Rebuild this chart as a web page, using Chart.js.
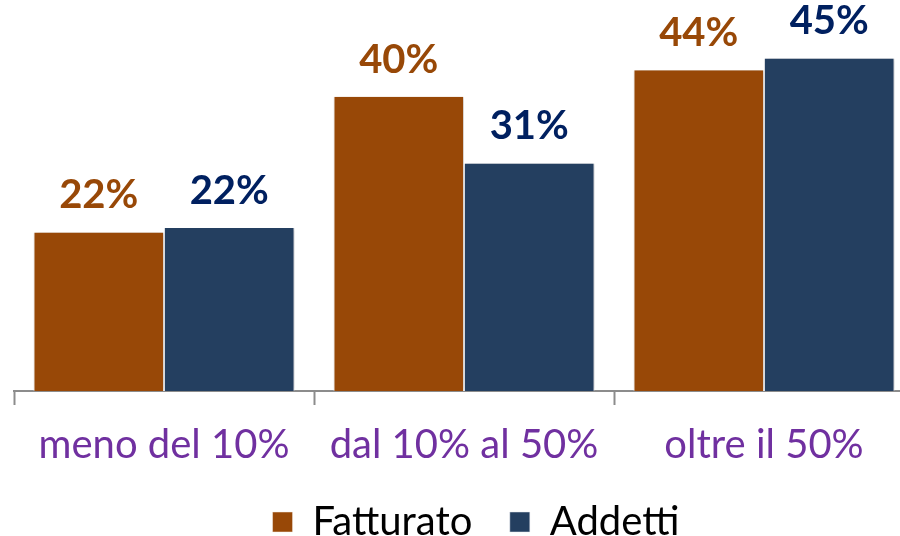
<!DOCTYPE html>
<html>
<head>
<meta charset="utf-8">
<script src="https://cdn.jsdelivr.net/npm/chart.js@4"></script>
<style>
    html, body { margin: 0; padding: 0; background: #fff; overflow: hidden; }
    #wrap { width: 900px; height: 536px; overflow: hidden; }
</style>
</head>
<body>
<div id="wrap"><canvas id="chart" width="914" height="558"></canvas></div>
<script>
// Chart data
const categories = ['meno del 10%', 'dal 10% al 50%', 'oltre il 50%'];
const fatturato = [21.6, 40.1, 43.7];
const addetti = [22.2, 31.0, 45.3];
const seriesNames = ['Fatturato', 'Addetti'];

const FONT = 'Lato, "Liberation Sans", sans-serif';
const labelColors = ['#984807', '#002060'];

// Soft shadow behind bars
const barShadow = {
    id: 'barShadow',
    beforeDatasetsDraw(chart) {
        const ctx = chart.ctx;
        ctx.save();
        ctx.shadowColor = 'rgba(0,0,0,0.22)';
        ctx.shadowBlur = 5;
        ctx.shadowOffsetX = 1;
        ctx.shadowOffsetY = 0;
    },
    afterDatasetsDraw(chart) {
        chart.ctx.restore();
    }
};

// Percent labels above each bar
const valueLabels = {
    id: 'valueLabels',
    afterDatasetsDraw(chart) {
        const ctx = chart.ctx;
        ctx.save();
        ctx.font = 'bold 40px ' + FONT;
        ctx.textAlign = 'center';
        ctx.textBaseline = 'middle';
        chart.data.datasets.forEach((ds, i) => {
            chart.getDatasetMeta(i).data.forEach((bar, j) => {
                ctx.fillStyle = labelColors[i];
                ctx.fillText(Math.round(ds.data[j]) + '%', bar.x, bar.y - 37);
            });
        });
        ctx.restore();
    }
};

// Legend sits a bit right of centre in the original
const legendShift = {
    id: 'legendShift',
    afterLayout(chart) {
        if (chart.legend) {
            chart.legend.left += 12;
            chart.legend.right += 12;
        }
    }
};

new Chart(document.getElementById('chart'), {
    type: 'bar',
    data: {
        labels: categories,
        datasets: [{
            label: seriesNames[0],
            data: fatturato,
            backgroundColor: '#984807',
            borderColor: '#f4ece6',
            borderWidth: { left: 1, right: 1, top: 0, bottom: 0 },
            categoryPercentage: 0.87,
            barPercentage: 1.0
        }, {
            label: seriesNames[1],
            data: addetti,
            backgroundColor: '#243F60',
            borderColor: '#e6e9ee',
            borderWidth: { left: 1, right: 1, top: 0, bottom: 0 },
            categoryPercentage: 0.87,
            barPercentage: 1.0
        }]
    },
    options: {
        responsive: false,
        animation: false,
        layout: {
            padding: { left: 14, right: 0, top: 24, bottom: 6 }
        },
        plugins: {
            legend: {
                position: 'bottom',
                labels: {
                    boxWidth: 20,
                    boxHeight: 20,
                    padding: 17,
                    color: '#000',
                    font: { family: FONT, size: 40 },
                    generateLabels(chart) {
                        // a little extra room after the first item, like the original
                        const items = Chart.defaults.plugins.legend.labels.generateLabels(chart);
                        items[0].text = items[0].text + '  ';
                        return items;
                    }
                }
            },
            tooltip: { enabled: false }
        },
        scales: {
            y: {
                display: false,
                min: 0,
                max: 50
            },
            x: {
                grid: {
                    drawOnChartArea: false,
                    drawTicks: true,
                    tickLength: 14,
                    tickWidth: 2,
                    tickColor: '#8c8c8c',
                    offset: true
                },
                border: { color: '#8c8c8c', width: 2 },
                ticks: {
                    color: '#7030A0',
                    padding: 16,
                    font: { family: FONT, size: 40 }
                }
            }
        }
    },
    plugins: [barShadow, valueLabels, legendShift]
});
</script>
</body>
</html>
